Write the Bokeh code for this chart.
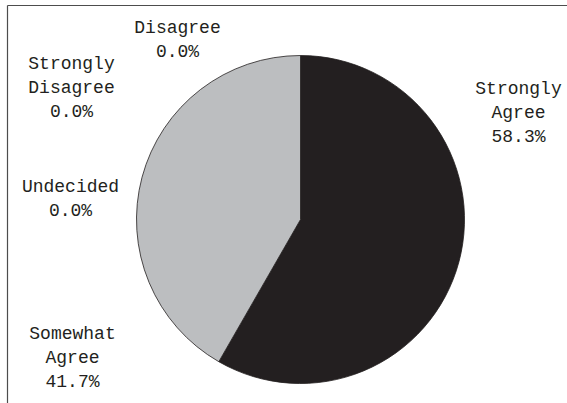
import math
from bokeh.plotting import figure
from bokeh.models import Range1d, ColumnDataSource
from bokeh.core.properties import value
from bokeh.embed import file_html
from bokeh.resources import INLINE

# ---- data ----
categories = ["Strongly Agree", "Somewhat Agree", "Undecided", "Disagree", "Strongly Disagree"]
percentages = [58.3, 41.7, 0.0, 0.0, 0.0]
label_names = [["Strongly", "Agree"], ["Somewhat", "Agree"], ["Undecided"], ["Disagree"], ["Strongly", "Disagree"]]

# ---- layout / style (pixel-like coordinates, y measured from top) ----
W, H = 567, 403
cx, cy, r = 300, 219, 164
colors = ["#231f20", "#bcbec0", "#8a8a8a", "#6d6e71", "#e6e7e8"]
label_x = [518, 72, 70, 177, 71]
label_top = [88, 333, 186, 27, 63]
line_step = 24
FONT = "Liberation Mono"

p = figure(width=W, height=H, output_backend="svg", toolbar_location=None,
           x_range=Range1d(0, W), y_range=Range1d(0, H), min_border=0)
p.axis.visible = False
p.xgrid.visible = False
p.ygrid.visible = False
p.outline_line_color = None
p.background_fill_color = "white"
p.border_fill_color = "white"

# frame
p.segment(x0=[7, 7], y0=[H - 5, H - 5], x1=[W, 7], y1=[H - 5, 0], line_color="#4d4d4d", line_width=1.2)

# wedges (clockwise from 12 o'clock)
total = sum(percentages)
starts, ends, cols = [], [], []
cum = 0.0
for v, c in zip(percentages, colors):
    a0 = math.pi / 2 - 2 * math.pi * cum / total
    cum += v
    a1 = math.pi / 2 - 2 * math.pi * cum / total
    if v > 0:
        starts.append(a0)
        ends.append(a1)
        cols.append(c)
src = ColumnDataSource(dict(start=starts, end=ends, color=cols))
p.wedge(x=cx, y=H - cy, radius=r, start_angle="start", end_angle="end", direction="clock",
        fill_color="color", line_color="#231f20", line_width=0.8, source=src)

# labels
tx, ty, tt = [], [], []
for name_lines, v, lx, lt in zip(label_names, percentages, label_x, label_top):
    lines = list(name_lines) + [f"{v:.1f}%"]
    for i, s in enumerate(lines):
        tx.append(lx)
        ty.append(H - (lt + i * line_step))
        tt.append(s)
p.text(x=tx, y=ty, text=tt, text_font=value(FONT), text_font_size="18px",
       text_align="center", text_baseline="middle", text_color="#231f20")

open("out.html", "w").write(file_html(p, INLINE))
